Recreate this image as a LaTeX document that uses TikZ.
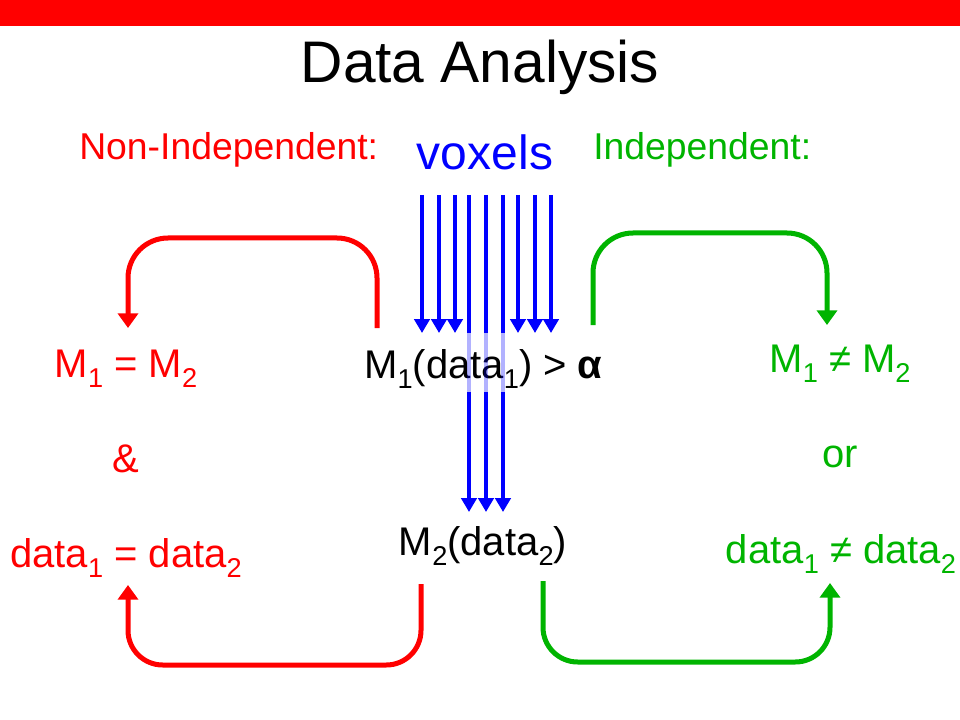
\documentclass[tikz,border=0pt]{standalone}
\usepackage{fontspec}
\setmainfont{Liberation Sans}
\usetikzlibrary{arrows.meta}
\definecolor{pptred}{RGB}{255,0,0}
\definecolor{pptgreen}{RGB}{0,180,0}
\definecolor{pptblue}{RGB}{0,0,255}
\newcommand{\lowsub}[1]{\raisebox{-0.25em}{\scalebox{0.68}{#1}}}
\begin{document}
\begin{tikzpicture}[x=0.75pt,y=-0.75pt,
  txt/.style={inner sep=0pt, anchor=base, font=\fontsize{30}{36}\selectfont},
  head/.style={inner sep=0pt, anchor=base west, font=\fontsize{28}{34}\selectfont},
  loop/.style={line width=3.75pt, rounded corners=30pt},
  bigtip/.style={-{Triangle[width=15pt,length=11pt]}},
  vox/.style={pptblue, line width=3pt},
  voxtip/.style={-{Triangle[width=11.5pt,length=10.5pt]}}]
\useasboundingbox (0,0) rectangle (960,720);
\fill[pptred] (0,0) rectangle (960,26);

\node[txt, font=\fontsize{44}{52}\selectfont] (title) at (480,83) {Data Analysis};
\node[head, pptred] (nonind) at (79,160) {Non-Independent:};
\node[txt, font=\fontsize{36}{42}\selectfont, pptblue] (voxels) at (485,170) {voxels};
\node[head, pptgreen] (ind) at (593,160) {Independent:};

\node[txt, pptred] (eqm) at (126,377) {M\lowsub{1} = M\lowsub{2}};
\node[txt, anchor=base west] (cond) at (364,378) {M\lowsub{1}(data\lowsub{1}) > \textbf{α}};
\node[txt, pptgreen] (neqm) at (840,372) {M\lowsub{1} ≠ M\lowsub{2}};

\node[txt, pptred] (amp) at (126,472) {\&};
\node[txt, pptgreen] (or) at (840,467) {or};

\node[txt, pptred] (eqd) at (126,567) {data\lowsub{1} = data\lowsub{2}};
\node[txt] (m2) at (483,555) {M\lowsub{2}(data\lowsub{2})};
\node[txt, pptgreen] (neqd) at (841,563) {data\lowsub{1} ≠ data\lowsub{2}};

% voxel arrows
\foreach \x in {422,439,455,518,535,551}
  \draw[vox, voxtip] (\x,195) -- (\x,333);
\foreach \x in {469,486,503}{
  \draw[vox] (\x,195) -- (\x,333);
  \draw[pptblue, opacity=0.3, line width=3pt] (\x,333) -- (\x,392);
  \draw[vox, voxtip] (\x,392) -- (\x,512);
}

% connector end points
\coordinate (rtA) at (377,328);
\coordinate (rtB) at (128,328);
\coordinate (gtA) at (593,325);
\coordinate (gtB) at (827,325);
\coordinate (rbA) at (421,584);
\coordinate (rbB) at (128,585);
\coordinate (gbA) at (543,581);
\coordinate (gbB) at (830,583);

\draw[loop, bigtip, pptred] (rtA) -- (377,238) -- (128,238) -- (rtB);
\draw[loop, bigtip, pptgreen] (gtA) -- (593,233) -- (827,233) -- (gtB);
\draw[loop, bigtip, pptred, rounded corners=26pt] (rbA) -- (421,665) -- (128,665) -- (rbB);
\draw[loop, bigtip, pptgreen, rounded corners=26pt] (gbA) -- (543,662) -- (830,662) -- (gbB);
\end{tikzpicture}
\end{document}
